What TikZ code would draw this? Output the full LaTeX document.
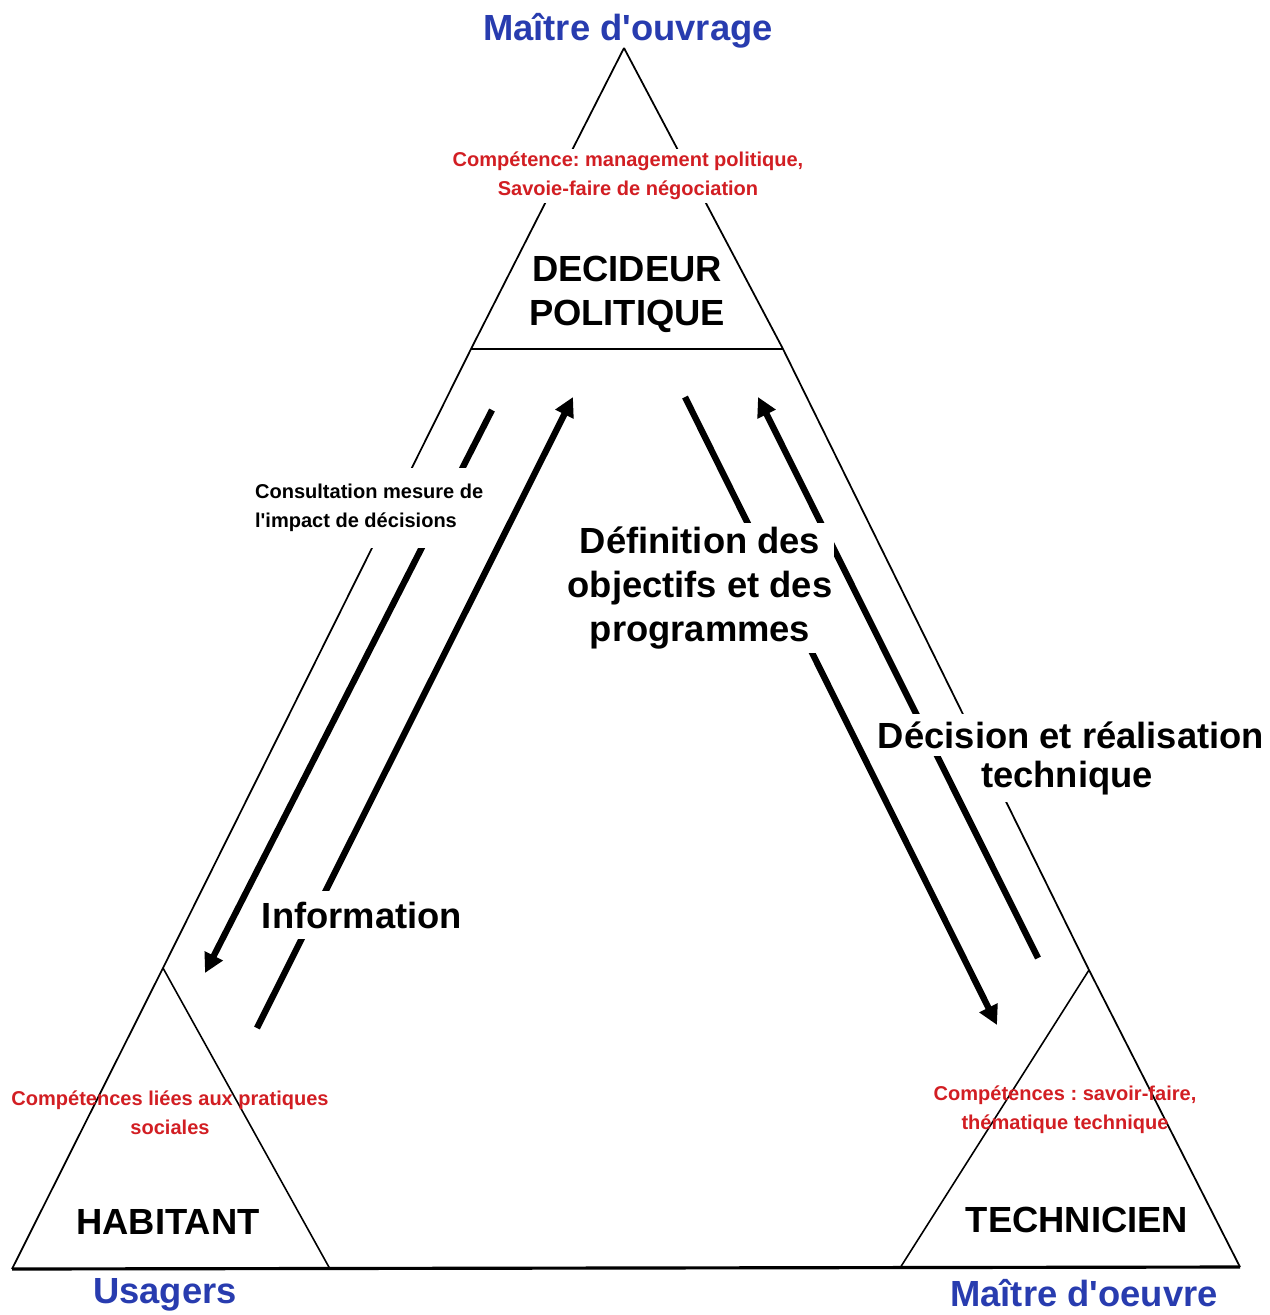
\documentclass[tikz,border=0pt]{standalone}
\usepackage{fontspec}
\setmainfont{Liberation Sans}
\usetikzlibrary{arrows.meta}
\frenchspacing

\definecolor{roleblue}{RGB}{40,60,175}
\definecolor{skillred}{RGB}{210,30,35}

\tikzset{
  big/.style={font=\bfseries\fontsize{20.7}{25}\selectfont, align=center},
  small/.style={font=\bfseries\fontsize{11.4}{16.5}\selectfont, align=center},
  role/.style={big, text=roleblue},
  skill/.style={small, text=skillred},
  flow/.style={line width=3.6pt, -{Triangle[length=11pt,width=11pt]}},
  gap/.style={fill=white, inner xsep=1pt, inner ysep=2pt}
}

\begin{document}
\begin{tikzpicture}[x=0.02cm, y=-0.02cm]
\useasboundingbox (0,0) rectangle (1270,1315);

% Corners
\coordinate (top) at (624,48);
\coordinate (tl) at (471,349);
\coordinate (tr) at (783,349);
\coordinate (hab) at (163,968);
\coordinate (tec) at (1089,970);
\coordinate (bl) at (12,1269);
\coordinate (br) at (1240,1267);
\coordinate (habr) at (330,1269);
\coordinate (tecl) at (900,1268);

% Triangles
\draw[line width=1pt] (top) -- (tl) -- (hab) -- (bl);
\draw[line width=1pt] (top) -- (tr) -- (tec) -- (br);
\draw[line width=1.6pt] (tl) -- (tr);
\draw[line width=1.8pt] (bl) -- (br);
\draw[line width=0.9pt] (hab) -- (habr);
\draw[line width=0.9pt] (tec) -- (tecl);

% Arrows
\coordinate (cons1) at (492,410);
\coordinate (cons2) at (205,973);
\coordinate (info1) at (257,1028);
\coordinate (info2) at (573,397);
\coordinate (def1) at (685,397);
\coordinate (def2) at (997,1025);
\coordinate (dcs1) at (1038,958);
\coordinate (dcs2) at (758,397);
\draw[flow] (cons1) -- (cons2);
\draw[flow] (info1) -- (info2);
\draw[flow] (def1) -- (def2);
\draw[flow] (dcs1) -- (dcs2);

% Labels
\node[role] (mo) at (628,31) {Maître d\textquotesingle ouvrage};
\node[skill, gap] (cdec) at (628,176) {Compétence: management politique,\\Savoie-faire de négociation};
\node[big] (dec) at (627,294) {DECIDEUR\\POLITIQUE};

\node[small, gap, align=left, anchor=west, inner ysep=9pt] (cons) at (253,508) {Consultation mesure de\\l\textquotesingle impact de décisions};
\node[big, gap, inner ysep=6pt] (info) at (362,915) {Information};
\node[big, gap] (def) at (700,588) {Définition des\\objectifs et des\\programmes};
\node[big, gap, inner ysep=4pt] (dcsa) at (1071,735) {Décision et réalisation};
\node[big, gap, inner ysep=4pt] (dcsb) at (1067,778) {technique};

\node[skill] (chab) at (170,1113) {Compétences liées aux pratiques\\sociales};
\node[big] (habt) at (168,1222) {HABITANT};
\node[role] (usg) at (165,1295) {Usagers};

\node[skill] (ctec) at (1065,1110) {Compétences : savoir-faire,\\thématique technique};
\node[big] (tect) at (1077,1220) {TECHNICIEN};
\node[role] (moe) at (1084,1293) {Maître d\textquotesingle oeuvre};

\end{tikzpicture}
\end{document}
